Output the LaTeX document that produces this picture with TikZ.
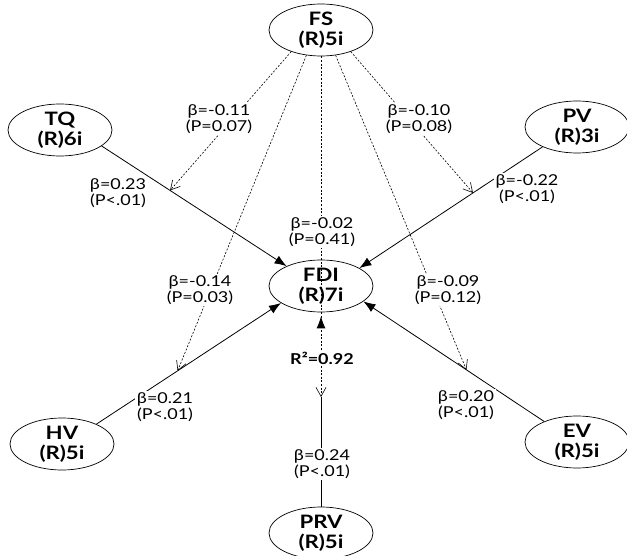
\documentclass[tikz,border=0pt]{standalone}
\usepackage{fontspec}
\setmainfont{Lato}[FakeStretch=1.2]
\usetikzlibrary{shapes.geometric,arrows.meta,calc}

\tikzset{
  var/.style={ellipse, draw, line width=0.7pt, minimum width=104pt, minimum height=52pt,
    inner sep=0pt, align=center, font=\fontsize{18.5}{20}\selectfont\bfseries},
  direct/.style={line width=0.8pt},
  moder/.style={line width=0.6pt, dash pattern=on 2pt off 1.6pt,
    -{Straight Barb[length=9pt,width=10pt]}},
  coef/.style={fill=white, inner sep=2pt, align=center, font=\fontsize{15}{15.5}\selectfont},
}

\begin{document}
\begin{tikzpicture}[x=1pt,y=-1pt]
\useasboundingbox (0,0) rectangle (627,556);
% Variables latentes
\foreach \n/\x/\y/\i in {FS/321/30/5i, TQ/60/130/6i, PV/577/127/3i, FDI/321/286/7i,
    HV/62/444/5i, EV/577/442/5i, PRV/321/533/5i} {
  \node[var] (\n) at (\x,\y) {\n\\(R)\i};
}
% Chemins directs vers FDI
\foreach \n/\a/\b in {TQ/339/150, PV/210/25, HV/30/203, EV/148/340} {
  \draw[direct, -{Latex[length=12pt,width=9pt]}] (\n.\a) -- (FDI.\b);
}
% Points d'arrivee des effets de FS
\coordinate (tTQ) at ($(TQ.339)!0.37!(FDI.150)$);
\coordinate (tPV) at ($(PV.210)!0.38!(FDI.25)$);
\coordinate (tHV) at ($(HV.30)!0.44!(FDI.203)$);
\coordinate (tEV) at ($(EV.148)!0.43!(FDI.340)$);
\coordinate (tPRV) at (321,397);
% PRV -> FDI
\draw[direct] (PRV) -- (tPRV);
\draw[direct, -{Latex[length=12pt,width=9pt]}, shorten <=70pt, shorten >=4pt] (tPRV) -- (FDI.south);
% Effets moderateurs de FS
\foreach \a/\t in {216/tTQ, 240/tHV, 270/tPRV, 300/tEV, 324/tPV} {
  \draw[moder] (FS.\a) -- (\t);
}
% Coefficients
\foreach \n/\x/\y/\b/\p in {cTQ/118/193/0.23/P<.01, cPV/527/189/-0.22/P<.01,
    cHV/165/407/0.21/P<.01, cEV/466/405/0.20/P<.01, cPRV/322/464/0.24/P<.01,
    cFDI/322/232/-0.02/P=0.41, mTQ/219/119/-0.11/P=0.07, mPV/419/119/-0.10/P=0.08,
    mHV/200/290/-0.14/P=0.03, mEV/448/290/-0.09/P=0.12} {
  \node[coef] (\n) at (\x,\y) {β=\b\\(\p)};
}
\node[coef, font=\fontsize{15}{15.5}\selectfont\bfseries] (rsq) at (322,358) {R²=0.92};
\end{tikzpicture}
\end{document}
